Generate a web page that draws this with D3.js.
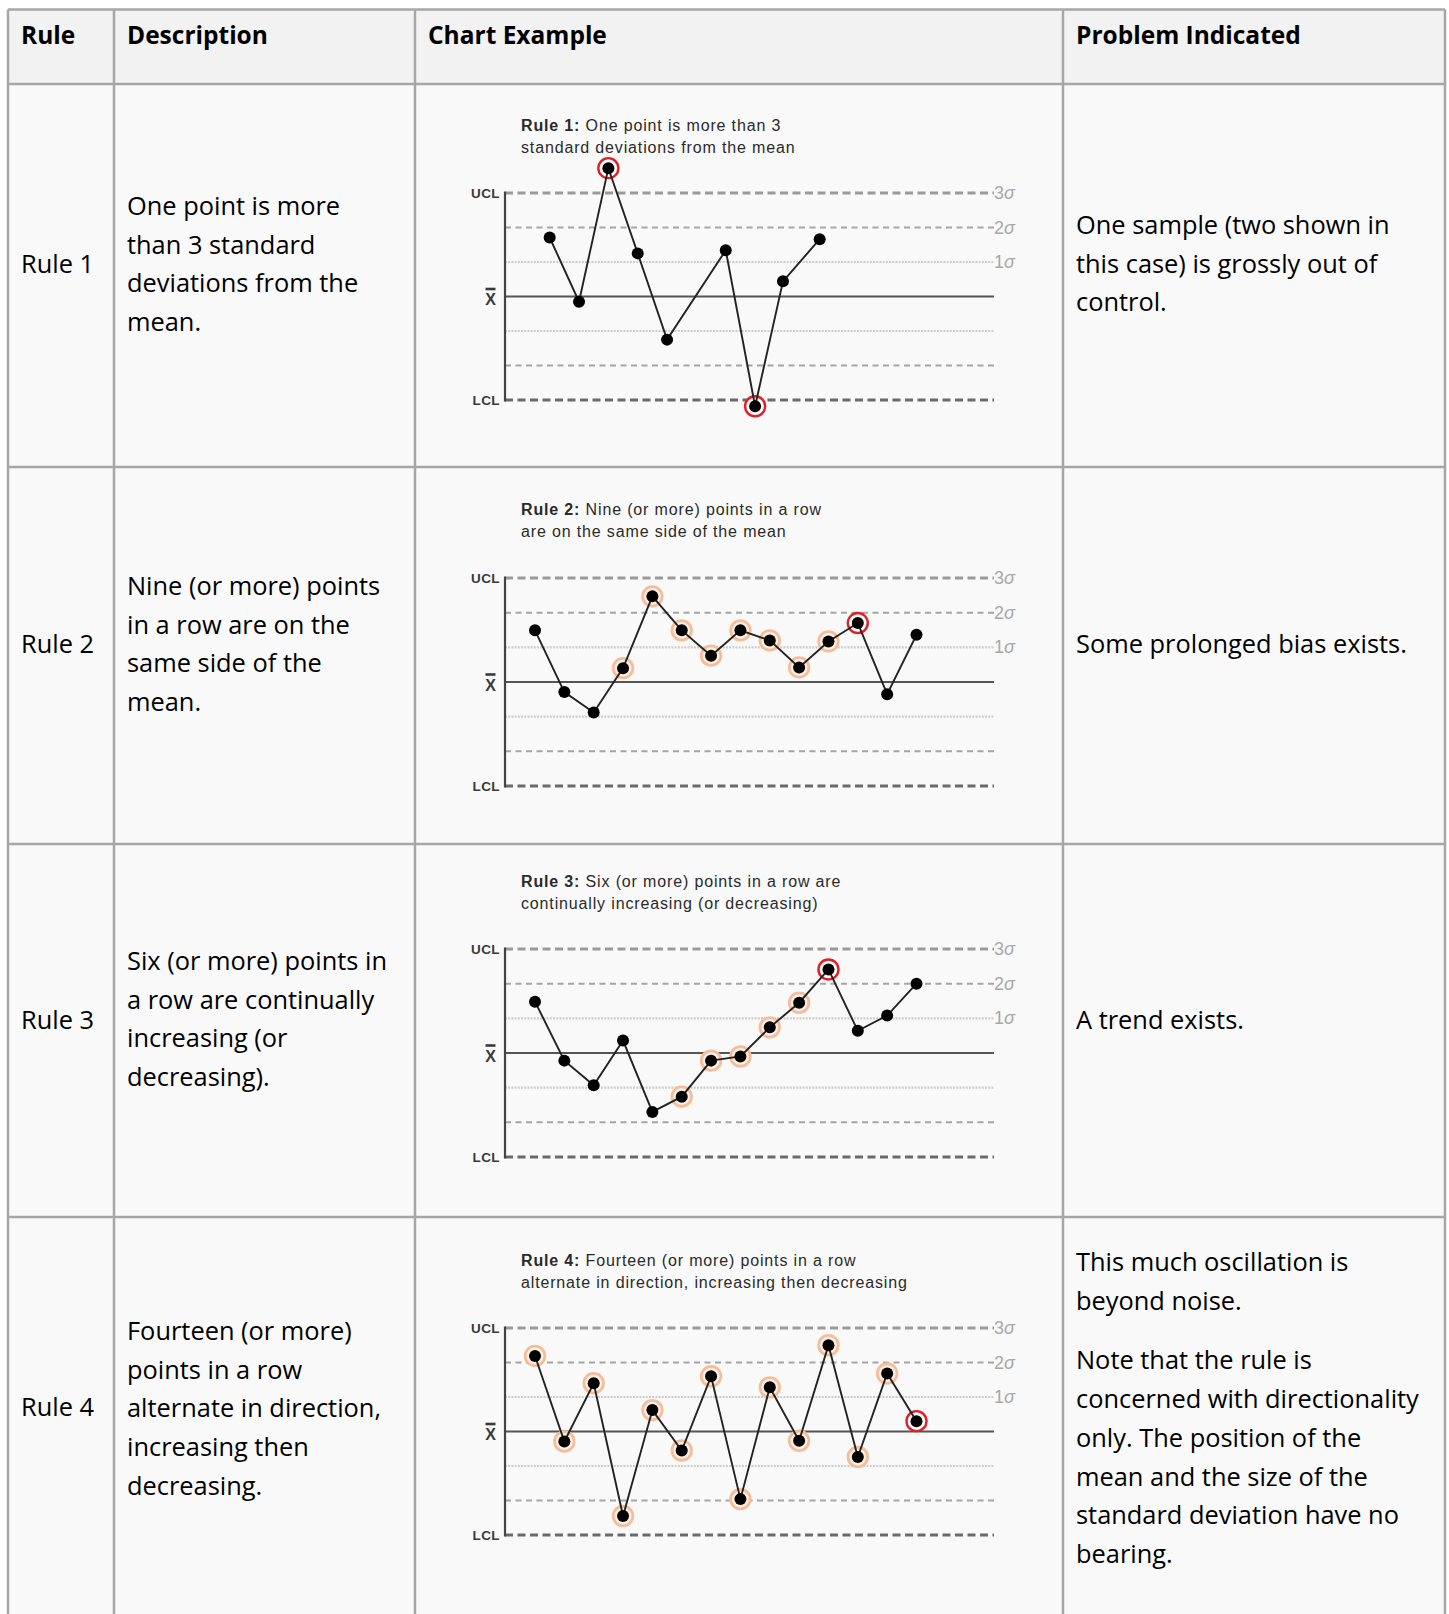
<!DOCTYPE html>
<html lang="en">
<head>
<meta charset="UTF-8">
<title>Control chart rules</title>
<style>
  body { margin: 0; background: #fff; }
  svg { display: block; }
  .cell { font-family: "Open Sans", Lato, sans-serif; font-size: 25.4px; fill: #000; }
  .head { font-weight: bold; font-size: 24.5px; }
  .ctitle { font-family: "Liberation Sans", Arial, sans-serif; font-size: 16px; letter-spacing: 0.85px; fill: #2a2a2a; }
  .lim { font-family: "Liberation Sans", Arial, sans-serif; font-size: 13.5px; font-weight: bold; letter-spacing: 0.4px; fill: #3a3a3a; }
  .xbar { font-size: 16px; letter-spacing: 0; }
  .sig { font-family: "Liberation Sans", Arial, sans-serif; font-size: 18px; fill: #a8a8a8; }
</style>
</head>
<body>
<div id="chart"></div>
<script src="https://d3js.org/d3.v7.min.js"></script>
<script>
// ---- table text ----
const headers = ["Rule", "Description", "Chart Example", "Problem Indicated"];
const ruleNames = ["Rule 1", "Rule 2", "Rule 3", "Rule 4"];
const descriptions = [
  ["One point is more", "than 3 standard", "deviations from the", "mean."],
  ["Nine (or more) points", "in a row are on the", "same side of the", "mean."],
  ["Six (or more) points in", "a row are continually", "increasing (or", "decreasing)."],
  ["Fourteen (or more)", "points in a row", "alternate in direction,", "increasing then", "decreasing."]
];
// each problem cell is a list of paragraphs, each a list of lines
const problems = [
  [["One sample (two shown in", "this case) is grossly out of", "control."]],
  [["Some prolonged bias exists."]],
  [["A trend exists."]],
  [["This much oscillation is", "beyond noise."],
   ["Note that the rule is", "concerned with directionality", "only. The position of the", "mean and the size of the", "standard deviation have no", "bearing."]]
];
const chartTitles = [
  ["Rule 1:", " One point is more than 3", "standard deviations from the mean"],
  ["Rule 2:", " Nine (or more) points in a row", "are on the same side of the mean"],
  ["Rule 3:", " Six (or more) points in a row are", "continually increasing (or decreasing)"],
  ["Rule 4:", " Fourteen (or more) points in a row", "alternate in direction, increasing then decreasing"]
];

// ---- chart data (x = sample position, y = sigma units; flag 1 = part of run, 2 = trigger) ----
const sigmaLevels = [3, 2, 1, 0, -1, -2, -3];
const rule1X = [0.5, 1.5, 2.5, 3.5, 4.5, 6.5, 7.5, 8.45, 9.7];
const rule1Y = [1.71, -0.15, 3.72, 1.25, -1.25, 1.34, -3.18, 0.44, 1.66];
const rule1F = [0, 0, 2, 0, 0, 0, 2, 0, 0];
const rule2Y = [1.49, -0.29, -0.88, 0.40, 2.47, 1.49, 0.76, 1.49, 1.20, 0.42, 1.17, 1.70, -0.35, 1.36];
const rule2F = [0, 0, 0, 1, 1, 1, 1, 1, 1, 1, 1, 2, 0, 0];
const rule3Y = [1.48, -0.22, -0.93, 0.36, -1.70, -1.26, -0.22, -0.10, 0.74, 1.45, 2.41, 0.64, 1.08, 2.0];
const rule3F = [0, 0, 0, 0, 0, 1, 1, 1, 1, 1, 2, 0, 0, 0];
const rule4Y = [2.19, -0.29, 1.40, -2.45, 0.62, -0.55, 1.60, -1.96, 1.28, -0.27, 2.50, -0.74, 1.68, 0.30];
const rule4F = [1, 1, 1, 1, 1, 1, 1, 1, 1, 1, 1, 1, 1, 2];

const series = [
  rule1X.map((x, i) => ({ x, y: rule1Y[i], f: rule1F[i] })),
  rule2Y.map((y, i) => ({ x: i, y, f: rule2F[i] })),
  rule3Y.map((y, i) => ({ x: i, y, f: rule3F[i] })),
  rule4Y.map((y, i) => ({ x: i, y, f: rule4F[i] }))
];

// ---- layout ----
const W = 1449, H = 1614;
const colX = [8, 114, 415, 1063, 1445];
const rowY = [9.5, 84, 467, 844, 1217, 1640];
const lineH = 38.7, paraGap = 21;
const chartTop = [125, 509, 881, 1260];   // centre of first title line
const uclY = [193, 578, 949, 1328];
const lclY = [400, 786, 1157, 1535];
const ruleY = [273, 653, 1029, 1416];
const descTop = [207, 587, 962, 1332];
const probTop = [226, 645, 1021, 1263];

const svg = d3.select("#chart").append("svg")
  .attr("width", W).attr("height", H);

// backgrounds
svg.append("rect").attr("x", colX[0]).attr("y", rowY[0])
  .attr("width", colX[4] - colX[0]).attr("height", rowY[1] - rowY[0]).attr("fill", "#f2f2f2");
svg.append("rect").attr("x", colX[0]).attr("y", rowY[1])
  .attr("width", colX[4] - colX[0]).attr("height", rowY[5] - rowY[1]).attr("fill", "#f9f9f9");

// borders
const border = svg.append("g").attr("stroke", "#a6a6a6").attr("stroke-width", 2.5);
rowY.slice(0, 5).forEach(y => border.append("line")
  .attr("x1", colX[0]).attr("x2", colX[4]).attr("y1", y).attr("y2", y));
colX.forEach(x => border.append("line")
  .attr("x1", x).attr("x2", x).attr("y1", rowY[0]).attr("y2", rowY[5]));

// header
svg.selectAll("text.head").data(headers).enter().append("text")
  .attr("class", "cell head")
  .attr("x", (d, i) => colX[i] + 13)
  .attr("y", 44)
  .text(d => d);

// rows
ruleNames.forEach((name, r) => {
  svg.append("text").attr("class", "cell")
    .attr("x", colX[0] + 13).attr("y", ruleY[r]).text(name);

  svg.append("g").selectAll("text").data(descriptions[r]).enter().append("text")
    .attr("class", "cell")
    .attr("x", colX[1] + 13)
    .attr("y", (d, i) => descTop[r] + 8 + i * lineH)
    .text(d => d);

  let yy = probTop[r] + 8;
  const lines = [];
  problems[r].forEach((para, p) => {
    if (p > 0) yy += paraGap;
    para.forEach(t => { lines.push({ t, y: yy }); yy += lineH; });
  });
  svg.append("g").selectAll("text").data(lines).enter().append("text")
    .attr("class", "cell")
    .attr("x", colX[3] + 13)
    .attr("y", d => d.y)
    .text(d => d.t);

  drawChart(r);
});

function drawChart(r) {
  const g = svg.append("g");
  const x = d3.scaleLinear().domain([0, 13]).range([535, 916.5]);
  const y = d3.scaleLinear().domain([-3, 3]).range([lclY[r], uclY[r]]);
  const axisX = 505, endX = 994;

  // title
  const t = g.append("text").attr("class", "ctitle").attr("x", 521).attr("y", chartTop[r] + 5.5);
  t.append("tspan").attr("font-weight", "bold").text(chartTitles[r][0]);
  t.append("tspan").text(chartTitles[r][1]);
  g.append("text").attr("class", "ctitle").attr("x", 521).attr("y", chartTop[r] + 27.5)
    .text(chartTitles[r][2]);

  // reference lines
  const style = s => {
    const a = Math.abs(s);
    if (s === 0) return { c: "#555", w: 2.2, dash: null };
    if (a === 3) return { c: s > 0 ? "#9a9a9a" : "#6a6a6a", w: 3, dash: "8,4.5" };
    if (a === 2) return { c: "#a5a5a5", w: 2, dash: "6,4.5" };
    return { c: "#cdcdcd", w: 2.2, dash: "2,1.2" };
  };
  g.selectAll("line.ref").data(sigmaLevels).enter().append("line")
    .attr("x1", axisX).attr("x2", endX)
    .attr("y1", d => y(d)).attr("y2", d => y(d))
    .attr("stroke", d => style(d).c)
    .attr("stroke-width", d => style(d).w)
    .attr("stroke-dasharray", d => style(d).dash);

  // vertical axis
  g.append("line").attr("x1", axisX).attr("x2", axisX)
    .attr("y1", y(3) - 1.5).attr("y2", y(-3) + 1.5)
    .attr("stroke", "#444").attr("stroke-width", 2.2);

  // left labels
  g.append("text").attr("class", "lim").attr("text-anchor", "end")
    .attr("x", axisX - 5).attr("y", y(3) + 5).text("UCL");
  g.append("text").attr("class", "lim").attr("text-anchor", "end")
    .attr("x", axisX - 5).attr("y", y(-3) + 5).text("LCL");
  g.append("text").attr("class", "lim xbar").attr("text-anchor", "middle")
    .attr("x", axisX - 14.5).attr("y", y(0) + 8.5).text("X");
  g.append("line").attr("x1", axisX - 19.5).attr("x2", axisX - 9.5)
    .attr("y1", y(0) - 7.5).attr("y2", y(0) - 7.5).attr("stroke", "#3a3a3a").attr("stroke-width", 2.6);

  // right sigma labels
  const sl = g.selectAll("text.sig").data(sigmaLevels.filter(d => d > 0)).enter().append("text")
    .attr("class", "sig").attr("x", endX).attr("y", d => y(d) + 6);
  sl.append("tspan").text(d => d);
  sl.append("tspan").attr("font-style", "italic").text("σ");

  // data
  const data = series[r];
  const line = d3.line().x(d => x(d.x)).y(d => y(d.y));

  g.selectAll("circle.halo").data(data.filter(d => d.f > 0)).enter().append("circle")
    .attr("cx", d => x(d.x)).attr("cy", d => y(d.y))
    .attr("r", d => d.f === 2 ? 10 : 9.8)
    .attr("fill", d => d.f === 2 ? "#fff" : "#fdf0e6")
    .attr("stroke", d => d.f === 2 ? "#e41e26" : "#f6bd9a")
    .attr("stroke-width", d => d.f === 2 ? 2.4 : 2.8);

  g.append("path").datum(data)
    .attr("fill", "none").attr("stroke", "#222").attr("stroke-width", 1.9)
    .attr("d", line);

  g.selectAll("circle.dot").data(data).enter().append("circle")
    .attr("cx", d => x(d.x)).attr("cy", d => y(d.y))
    .attr("r", 6).attr("fill", "#000");
}
</script>
</body>
</html>
